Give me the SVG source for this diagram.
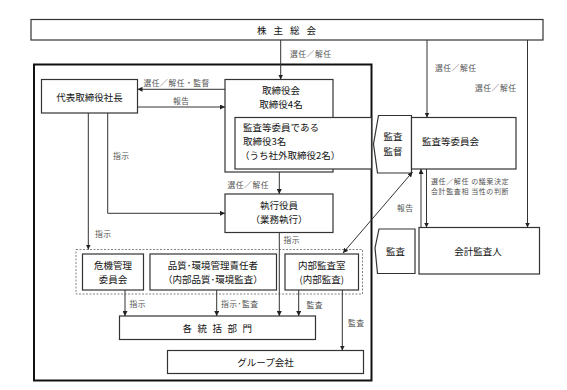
<svg xmlns="http://www.w3.org/2000/svg" width="567" height="390" viewBox="0 0 567 390">
<defs>
<marker id="ah" viewBox="0 0 10 10" refX="10" refY="5" markerWidth="5" markerHeight="5" orient="auto-start-reverse" markerUnits="userSpaceOnUse">
<path d="M0,0 L10,5 L0,10 Z" fill="#222"/>
</marker>
<style>
.box{fill:#fff;stroke:#333;stroke-width:1.2}
.t{font-family:"Noto Sans CJK JP","Noto Sans CJK SC",sans-serif;font-size:9.5px;fill:#111;text-anchor:middle;dominant-baseline:central}
.tl{text-anchor:start}
.lb{font-family:"Noto Sans CJK JP","Noto Sans CJK SC",sans-serif;font-size:7.8px;fill:#555;dominant-baseline:central;letter-spacing:0.5px}
.sm{font-size:7px;letter-spacing:0.6px}
.c{fill:none;stroke:#333;stroke-width:1}
.a{marker-end:url(#ah)}
</style>
</defs>
<rect width="567" height="390" fill="#fff"/>

<g id="outer">
<rect x="34" y="64.5" width="337.5" height="316" fill="none" stroke="#111" stroke-width="2"/>
<rect x="76" y="249.5" width="286.5" height="44.5" fill="none" stroke="#666" stroke-width="0.8" stroke-dasharray="2,1.5"/>
</g>

<g id="shareholders">
<rect class="box" x="31" y="19.5" width="512" height="20.5"/>
<text class="t" x="290" y="30" letter-spacing="7">株主総会</text>
</g>

<g id="president">
<rect class="box" x="41.5" y="79.5" width="96" height="33.5"/>
<text class="t" x="89.5" y="97">代表取締役社長</text>
</g>

<g id="board">
<rect class="box" x="225" y="79.5" width="108" height="92.5"/>
<text class="t" x="281" y="89.5">取締役会</text>
<text class="t" x="281" y="103.5">取締役4名</text>
</g>

<g id="auditmembers">
<rect class="box" x="235" y="117.5" width="136.5" height="51.5"/>
<text class="t tl" x="243" y="126.5">監査等委員である</text>
<text class="t tl" x="243" y="140.5">取締役3名</text>
<text class="t tl" x="240" y="154.5">（うち社外取締役2名）</text>
</g>

<g id="officers">
<rect class="box" x="225" y="194" width="108" height="38.5"/>
<text class="t" x="279" y="204.5">執行役員</text>
<text class="t" x="279" y="219">（業務執行）</text>
</g>

<g id="kansa-kantoku">
<path class="box" d="M378.5,115.5 L411.5,115.5 L411.5,173 L377.5,173 L373.5,144 Z"/>
<text class="t" x="393" y="136">監査</text>
<text class="t" x="393" y="151">監督</text>
</g>

<g id="auditcommittee">
<rect class="box" x="411.5" y="117.5" width="104.5" height="51.5"/>
<text class="t tl" x="422" y="141">監査等委員会</text>
</g>

<g id="kansa2">
<path class="box" d="M379,229 L415,229 L415,273.5 L377.5,273.5 L375,248 Z"/>
<text class="t" x="395.5" y="251">監査</text>
</g>

<g id="accountant">
<rect class="box" x="419" y="227.5" width="120.5" height="46.5"/>
<text class="t" x="478" y="251">会計監査人</text>
</g>

<g id="crisis">
<rect class="box" x="82.5" y="254" width="61" height="36"/>
<text class="t" x="113" y="265">危機管理</text>
<text class="t" x="113" y="279">委員会</text>
</g>

<g id="quality">
<rect class="box" x="150" y="254" width="126.5" height="36"/>
<text class="t" x="213" y="265">品質･環境管理責任者</text>
<text class="t" x="213" y="279">（内部品質･環境監査）</text>
</g>

<g id="internalaudit">
<rect class="box" x="285" y="254" width="73.5" height="36"/>
<text class="t" x="321.7" y="265">内部監査室</text>
<text class="t" x="321.7" y="279">(内部監査)</text>
</g>

<g id="divisions">
<rect class="box" x="119.5" y="316" width="196" height="23.5"/>
<text class="t" x="220" y="328" letter-spacing="5.5">各統括部門</text>
</g>

<g id="group">
<rect class="box" x="167.5" y="350.5" width="196" height="23"/>
<text class="t" x="265.5" y="362">グループ会社</text>
</g>

<g id="connectors">
<line class="c a" x1="280.7" y1="40" x2="280.7" y2="79.5"/>
<line class="c a" x1="427" y1="40" x2="427" y2="117.5"/>
<line class="c a" x1="527.5" y1="40" x2="527.5" y2="227.5" stroke="#666"/>
<line class="c a" x1="225" y1="89.3" x2="137.5" y2="89.3"/>
<line class="c a" x1="137.5" y1="107" x2="225" y2="107" stroke="#777"/>
<line class="c a" x1="88.3" y1="113" x2="88.3" y2="249.5"/>
<polyline class="c a" points="107.7,113 107.7,213.3 225,213.3" stroke="#777"/>
<line class="c a" x1="279.3" y1="172" x2="279.3" y2="194"/>
<line class="c a" x1="279.3" y1="232.5" x2="279.3" y2="316"/>
<line class="c a" x1="125" y1="290" x2="125" y2="316"/>
<line class="c a" x1="216.7" y1="290" x2="216.7" y2="316"/>
<line class="c a" x1="298.7" y1="290" x2="298.7" y2="316"/>
<line class="c a" x1="342.3" y1="290" x2="342.3" y2="350.5"/>
<line class="c a" x1="343" y1="253" x2="412.5" y2="172" marker-start="url(#ah)"/>
<line class="c a" x1="421" y1="227.5" x2="421" y2="169"/>
<line class="c a" x1="426.5" y1="169" x2="426.5" y2="227.5"/>

<text class="lb" x="290" y="53">選任／解任</text>
<text class="lb" x="435" y="67">選任／解任</text>
<text class="lb" x="475" y="87">選任／解任</text>
<text class="lb" x="143.5" y="82">選任／解任・監督</text>
<text class="lb" x="173" y="100">報告</text>
<text class="lb" x="113" y="155">指示</text>
<text class="lb" x="95" y="233">指示</text>
<text class="lb" x="227.5" y="184">選任／解任</text>
<text class="lb" x="283.5" y="239.5">指示</text>
<text class="lb" x="129.5" y="303.5">指示</text>
<text class="lb" x="221" y="303.5">指示･監査</text>
<text class="lb" x="306.5" y="304">監査</text>
<text class="lb" x="348" y="322">監査</text>
<text class="lb" x="397" y="207">報告</text>
<text class="lb sm" x="431" y="181">選任／解任 の議案決定</text>
<text class="lb sm" x="431" y="191">会計監査相 当性の判断</text>
</g>
</svg>
